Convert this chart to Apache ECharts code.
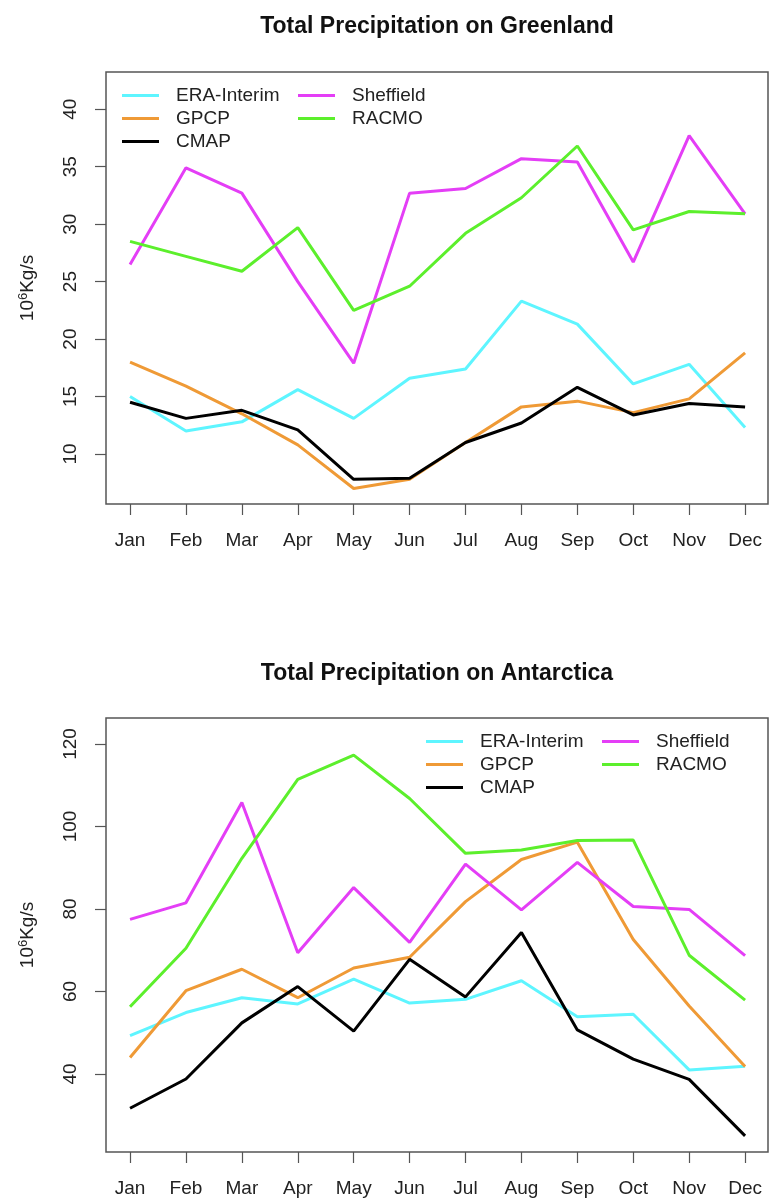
<!DOCTYPE html>
<html>
<head>
<meta charset="utf-8">
<script src="https://cdn.jsdelivr.net/npm/echarts@6/dist/echarts.min.js"></script>
<style>
html,body{margin:0;padding:0;background:#fff;}
#c{width:769px;height:1199px;}
</style>
</head>
<body>
<div id="c"></div>
<script>
const months = ['Jan','Feb','Mar','Apr','May','Jun','Jul','Aug','Sep','Oct','Nov','Dec'];
const seriesNames = ['ERA-Interim','GPCP','CMAP','Sheffield','RACMO'];

// Greenland (10^6 Kg/s)
const grlEra       = [15.0, 12.0, 12.8, 15.6, 13.1, 16.6, 17.4, 23.3, 21.3, 16.1, 17.8, 12.3];
const grlGpcp      = [18.0, 15.9, 13.5, 10.8,  7.0,  7.8, 11.0, 14.1, 14.6, 13.6, 14.8, 18.8];
const grlCmap      = [14.5, 13.1, 13.8, 12.1,  7.8,  7.9, 11.0, 12.7, 15.8, 13.4, 14.4, 14.1];
const grlSheffield = [26.5, 34.9, 32.7, 25.0, 17.9, 32.7, 33.1, 35.7, 35.4, 26.7, 37.7, 30.9];
const grlRacmo     = [28.5, 27.2, 25.9, 29.7, 22.5, 24.6, 29.2, 32.3, 36.8, 29.5, 31.1, 30.9];
const grlTicks     = [10, 15, 20, 25, 30, 35, 40];

// Antarctica (10^6 Kg/s)
const antEra       = [49.3, 54.9, 58.5, 57.0, 63.0, 57.2, 58.1, 62.6, 53.9, 54.5, 41.0, 41.9];
const antGpcp      = [44.0, 60.2, 65.4, 58.5, 65.7, 68.3, 81.8, 92.0, 96.2, 72.6, 56.5, 41.8];
const antCmap      = [31.7, 38.8, 52.4, 61.2, 50.4, 67.8, 58.7, 74.3, 50.7, 43.6, 38.7, 25.0];
const antSheffield = [77.5, 81.5, 105.8, 69.4, 85.2, 71.9, 90.9, 79.8, 91.3, 80.6, 79.9, 68.7];
const antRacmo     = [56.3, 70.5, 92.3, 111.4, 117.3, 106.8, 93.5, 94.3, 96.6, 96.7, 68.8, 57.9];
const antTicks     = [40, 60, 80, 100, 120];

const colors = {
  'ERA-Interim': '#5ef5ff',
  'GPCP': '#ef9a36',
  'CMAP': '#000000',
  'Sheffield': '#e43ef6',
  'RACMO': '#5cef2c'
};
const monthIdx = months.map((m, i) => i + 1);
const font = '"Liberation Sans", Arial, sans-serif';
const frame = '#555555';
const txt = '#222222';

function pairs(vals){ return vals.map((v, i) => [monthIdx[i], v]); }

function mkSeries(name, vals, gi){
  return {
    name: name, type: 'line', xAxisIndex: gi, yAxisIndex: gi,
    data: pairs(vals), showSymbol: false, symbol: 'none',
    lineStyle: { color: colors[name], width: 3 },
    itemStyle: { color: colors[name] },
    z: 3
  };
}

const grids = [
  { left: 106, top: 72, width: 662, height: 432 },
  { left: 106, top: 718, width: 662, height: 434 }
];

function xAxis(gi){
  return {
    type: 'value', gridIndex: gi, min: 0.57, max: 12.41,
    splitLine: { show: false },
    axisLine: { show: false },
    axisTick: { show: true, customValues: monthIdx, length: 11, lineStyle: { color: frame, width: 1.2 } },
    axisLabel: { customValues: monthIdx, formatter: v => months[Math.round(v) - 1], margin: 27,
                 fontFamily: font, fontSize: 19, color: txt }
  };
}
function yAxis(gi, min, max, ticks){
  return {
    type: 'value', gridIndex: gi, min: min, max: max,
    splitLine: { show: false },
    axisLine: { show: false },
    axisTick: { show: true, customValues: ticks, length: 11, lineStyle: { color: frame, width: 1.2 } },
    axisLabel: { customValues: ticks, rotate: 90, margin: 26, fontFamily: font, fontSize: 19, color: txt },
    name: '{a|10}{s|6}{a|Kg/s}', nameLocation: 'middle', nameGap: 68, nameRotate: 90,
    nameTextStyle: { rich: {
      a: { fontFamily: font, fontSize: 19, color: txt },
      s: { fontFamily: font, fontSize: 13, color: txt, verticalAlign: 'top', padding: [0,0,8,0] }
    } }
  };
}

function legendCol(names, left, top){
  return {
    data: names, left: left, top: top, orient: 'vertical', padding: 0,
    icon: 'rect', itemWidth: 37, itemHeight: 3, itemGap: 4,
    textStyle: { fontFamily: font, fontSize: 19, color: txt, padding: [0,0,0,12] },
    selectedMode: false
  };
}

const option = {
  animation: false,
  backgroundColor: '#ffffff',
  title: [
    { text: 'Total Precipitation on Greenland', left: 437, top: 15, textAlign: 'center', padding: 0,
      textStyle: { fontFamily: font, fontSize: 23, fontWeight: 'bold', color: '#111' } },
    { text: 'Total Precipitation on Antarctica', left: 437, top: 662, textAlign: 'center', padding: 0,
      textStyle: { fontFamily: font, fontSize: 23, fontWeight: 'bold', color: '#111' } }
  ],
  grid: grids.map(g => Object.assign({ show: true, borderColor: frame, borderWidth: 1.5, backgroundColor: 'transparent' }, g)),
  xAxis: [xAxis(0), xAxis(1)],
  yAxis: [yAxis(0, 5.65, 43.24, grlTicks), yAxis(1, 21.1, 126.3, antTicks)],
  legend: [
    legendCol(['ERA-Interim','GPCP','CMAP'], 122, 86),
    legendCol(['Sheffield','RACMO'], 298, 86),
    legendCol(['ERA-Interim','GPCP','CMAP'], 426, 732),
    legendCol(['Sheffield','RACMO'], 602, 732)
  ],
  series: [
    mkSeries('ERA-Interim', grlEra, 0),
    mkSeries('GPCP', grlGpcp, 0),
    mkSeries('CMAP', grlCmap, 0),
    mkSeries('Sheffield', grlSheffield, 0),
    mkSeries('RACMO', grlRacmo, 0),
    mkSeries('ERA-Interim', antEra, 1),
    mkSeries('GPCP', antGpcp, 1),
    mkSeries('CMAP', antCmap, 1),
    mkSeries('Sheffield', antSheffield, 1),
    mkSeries('RACMO', antRacmo, 1)
  ]
};

const chart = echarts.init(document.getElementById('c'), null, { renderer: 'canvas' });
chart.setOption(option);
</script>
</body>
</html>
